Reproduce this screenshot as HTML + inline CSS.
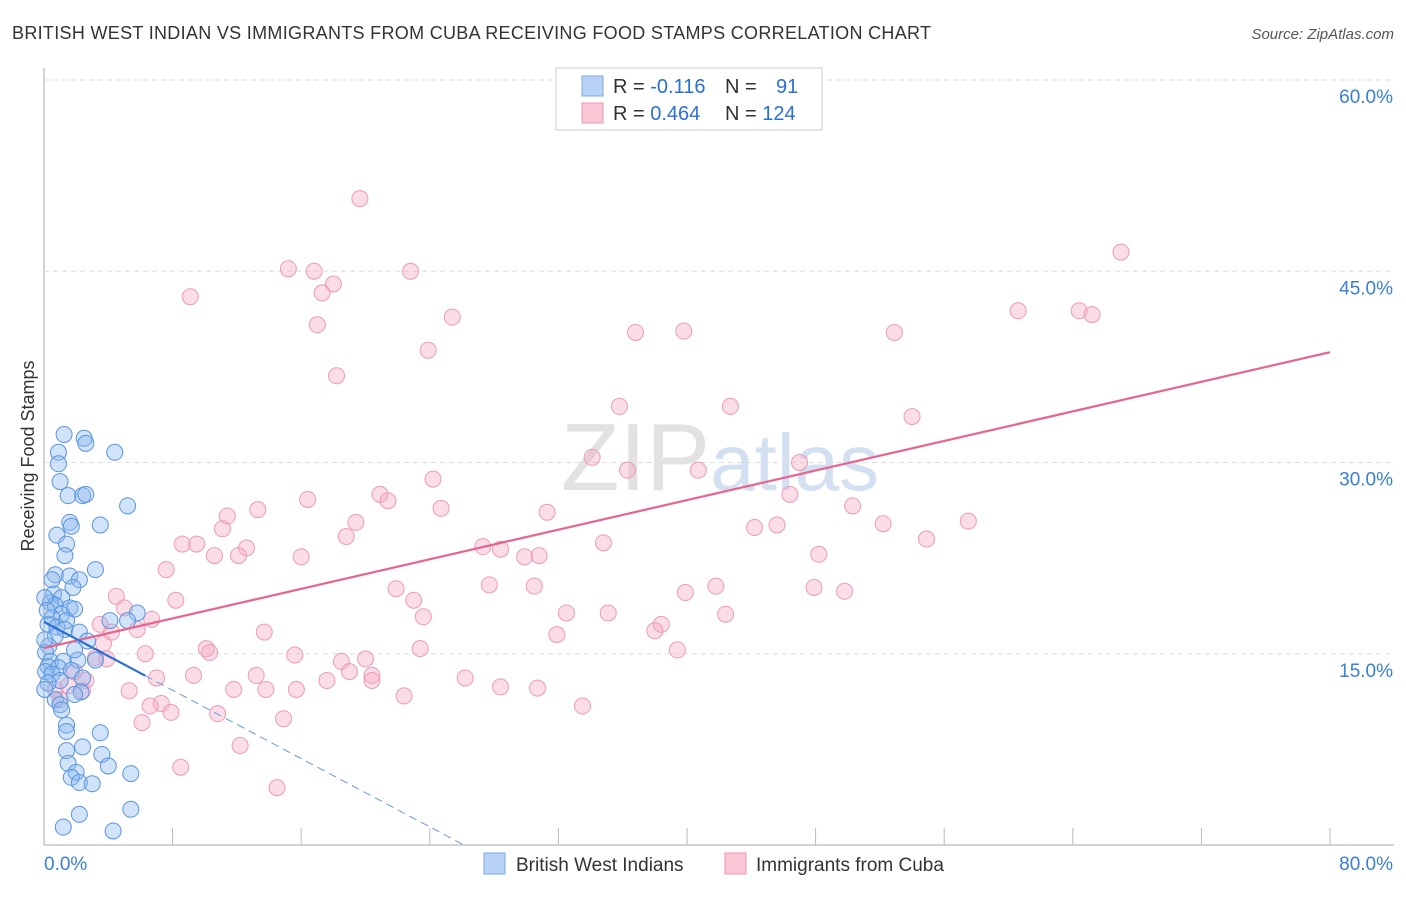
<!DOCTYPE html>
<html><head><meta charset="utf-8"><style>
body{margin:0;background:#fff;font-family:"Liberation Sans",sans-serif;}
svg text{font-family:"Liberation Sans",sans-serif;}
</style></head><body>
<svg width="1406" height="892" viewBox="0 0 1406 892">
<text x="12" y="39" font-size="18" fill="#333" textLength="919" lengthAdjust="spacing">BRITISH WEST INDIAN VS IMMIGRANTS FROM CUBA RECEIVING FOOD STAMPS CORRELATION CHART</text>
<text x="1394" y="39" font-size="15" fill="#555" font-style="italic" text-anchor="end">Source: ZipAtlas.com</text>
<g id="grid"></g>
<text x="720" y="490" font-size="96" fill="#e2e2e2" text-anchor="middle" font-family="Liberation Serif">ZIP<tspan fill="#d3e0f2" font-family="Liberation Sans" font-size="80">atlas</tspan></text>
<g id="pts"></g>
<g id="lines"></g>
<text transform="translate(34,456) rotate(-90)" font-size="18" fill="#333" text-anchor="middle">Receiving Food Stamps</text>
<g>
<rect x="556" y="68" width="266" height="62" fill="#fff" stroke="#ccc"/>
<rect x="582" y="76" width="21" height="20" fill="#b8d3f5" stroke="#7aa9e6"/>
<rect x="582" y="103" width="21" height="20" fill="#f8c6d5" stroke="#ee9ab3"/>
<text x="613" y="93" font-size="20" fill="#333">R = <tspan fill="#2b6fd6">-0.116</tspan></text>
<text x="725" y="93" font-size="20" fill="#333">N = <tspan fill="#2b6fd6" x="776">91</tspan></text>
<text x="613" y="120" font-size="20" fill="#333">R = <tspan fill="#2b6fd6">0.464</tspan></text>
<text x="725" y="120" font-size="20" fill="#333">N = <tspan fill="#2b6fd6">124</tspan></text>
</g>
<g>
<rect x="484" y="853" width="21" height="21" fill="#b8d3f5" stroke="#7aa9e6"/>
<text x="516" y="871" font-size="19" fill="#333">British West Indians</text>
<rect x="725" y="853" width="21" height="21" fill="#f8c6d5" stroke="#ee9ab3"/>
<text x="756" y="871" font-size="19" fill="#333">Immigrants from Cuba</text>
</g>
</svg>
<script>
const yTicks=[15,30,45,60];
const yTickLabels=["15.0%","30.0%","45.0%","60.0%"];
const xTickLabels=["0.0%","80.0%"];
const blueX=[1.25,2.5,2.6,4.4,0.9,0.9,1.0,1.5,2.4,2.6,5.2,1.6,1.7,3.5,0.8,1.4,1.3,3.2,0.7,1.6,2.2,1.8,0.6,1.1,0.4,0.7,1.6,1.9,5.8,1.1,0.5,5.2,1.4,0.25,0.8,1.3,2.2,0.7,2.7,0.3,0.1,2.1,0.4,1.2,0.25,0.9,1.7,0.1,0.5,2.4,1.0,0.25,2.3,1.9,0.7,1.0,1.1,1.4,1.4,3.5,1.4,2.4,3.6,1.5,4.0,2.0,1.7,5.4,2.2,3.0,5.4,2.2,1.2,4.3,0.05,0.05,0.05,0.5,1.9,3.2,4.1,0.2];
const blueY=[32.2,31.9,31.5,30.8,30.8,29.9,28.5,27.4,27.4,27.5,26.6,25.3,25.0,25.1,24.3,23.6,22.7,21.6,21.2,21.1,20.8,20.2,19.7,19.4,19.0,18.8,18.6,18.5,18.2,18.1,17.8,17.6,17.6,17.3,17.1,16.9,16.7,16.4,16.0,15.6,15.1,14.5,14.4,14.4,14.0,13.9,13.7,13.6,13.4,13.1,12.9,12.7,12.0,11.8,11.4,11.0,10.6,9.4,8.9,8.8,7.4,7.7,7.1,6.4,6.2,5.7,5.3,5.6,4.9,4.8,2.8,2.4,1.4,1.1,19.4,16.1,12.2,20.8,15.3,14.5,17.6,18.4];
const pinkX=[19.65,67.0,15.2,16.8,22.8,18.0,17.3,9.1,17.0,25.4,60.6,64.4,65.2,36.8,39.8,52.9,23.9,18.2,35.8,42.7,54.0,34.1,47.0,36.3,40.7,24.2,20.9,21.4,16.4,46.4,50.3,24.7,13.3,31.3,11.4,19.4,57.5,45.6,44.2,52.2,11.1,18.8,54.9,8.6,9.5,34.8,27.3,28.4,12.6,12.1,10.6,16.0,29.9,30.8,48.2,7.6,27.7,30.5,21.9,41.8,47.9,49.8,39.9,4.5,8.2,23.0,5.0,32.5,35.1,42.4,23.6,6.7,3.5,38.4,5.8,4.2,38.0,31.9,13.7,3.7,10.1,10.3,23.4,39.4,6.3,15.6,3.2,3.9,18.5,20.0,19.0,1.9,7.0,9.3,13.2,20.4,26.2,17.6,20.4,2.6,11.8,13.8,15.7,28.4,30.7,5.3,2.4,22.4,1.0,7.3,6.6,7.9,33.5,10.8,14.9,6.1,12.2,8.5,14.5,0.7,1.5];
const pinkY=[50.7,46.5,45.2,45.0,45.0,44.0,43.3,43.0,40.8,41.4,41.9,41.9,41.6,40.2,40.3,40.2,38.8,36.8,34.4,34.4,33.6,30.4,30.0,29.4,29.4,28.7,27.5,27.0,27.1,27.5,26.6,26.4,26.3,26.1,25.8,25.3,25.4,25.1,24.9,25.2,24.8,24.2,24.0,23.6,23.6,23.7,23.4,23.2,23.3,22.7,22.7,22.6,22.6,22.7,22.8,21.6,20.4,20.3,20.1,20.3,20.2,19.9,19.8,19.5,19.2,19.2,18.6,18.2,18.2,18.1,17.9,17.7,17.3,17.3,16.9,16.7,16.8,16.5,16.7,15.8,15.4,15.1,15.4,15.3,15.0,14.9,14.7,14.6,14.4,14.6,13.6,13.6,13.1,13.3,13.3,13.3,13.1,12.9,12.9,12.9,12.2,12.2,12.2,12.4,12.3,12.1,12.1,11.7,11.4,11.1,10.9,10.4,10.9,10.3,9.9,9.6,7.8,6.1,4.5,12.2,12.5];
const blueTrend=[17.5,-0.67];
const pinkTrend=[15.45,0.29];
const X0=44,X1=1330,YB=845,PY=12.75;
function sx(v){return X0+(v/80)*(X1-X0);}
function sy(v){return YB-v*PY;}
const NS="http://www.w3.org/2000/svg";
function mk(t,a){const e=document.createElementNS(NS,t);for(const k in a)e.setAttribute(k,a[k]);return e;}
const grid=document.getElementById('grid');
let ax=mk('line',{x1:X0,y1:68,x2:X0,y2:YB,stroke:'#aaa'});


grid.appendChild(ax);
let bx=mk('line',{x1:X0,y1:YB,x2:1394,y2:YB,stroke:'#aaa'});


grid.appendChild(bx);
yTicks.forEach((t,i)=>{
 let g=mk('line',{x1:X0,y1:sy(t),x2:1394,y2:sy(t),stroke:'#ddd','stroke-dasharray':'5,4'});
 
 
 grid.appendChild(g);
 let tx=mk('text',{x:1393,y:sy(t)+23,'font-size':19,fill:'#3a7fd5','text-anchor':'end'});
 tx.textContent=yTickLabels[i];
 
 
 grid.appendChild(tx);
});
for(let i=1;i<=10;i++){
 let x=sx(i*8);
 let t=mk('line',{x1:x,y1:828,x2:x,y2:YB,stroke:'#bbb'});
 
 
 grid.appendChild(t);
}
[[0,X0,'start'],[1,1393,'end']].forEach(([i,x,a])=>{
 let tx=mk('text',{x:x,y:870,'font-size':19,fill:'#3a7fd5','text-anchor':a});
 tx.textContent=xTickLabels[i];
 
 
 grid.appendChild(tx);
});
const pts=document.getElementById('pts');
pinkX.forEach((v,i)=>{
 let c=mk('circle',{cx:sx(v),cy:sy(pinkY[i]),r:8,fill:'rgba(246,170,195,0.4)',stroke:'#ef9ab4','stroke-width':1});
 
 
 pts.appendChild(c);
});
blueX.forEach((v,i)=>{
 let c=mk('circle',{cx:sx(v),cy:sy(blueY[i]),r:8,fill:'rgba(140,185,240,0.4)',stroke:'#5a94e0','stroke-width':1});
 
 
 pts.appendChild(c);
});
const lines=document.getElementById('lines');
let pl=mk('line',{x1:sx(0),y1:sy(pinkTrend[0]),x2:sx(80),y2:sy(pinkTrend[0]+80*pinkTrend[1]),stroke:'#e8648f','stroke-width':2.2});


lines.appendChild(pl);
const xs=6.3, xe=-blueTrend[0]/blueTrend[1];
let bl=mk('line',{x1:sx(0),y1:sy(blueTrend[0]),x2:sx(xs),y2:sy(blueTrend[0]+xs*blueTrend[1]),stroke:'#2b6fd6','stroke-width':2.2});


lines.appendChild(bl);
let bd=mk('line',{x1:sx(xs),y1:sy(blueTrend[0]+xs*blueTrend[1]),x2:sx(xe),y2:sy(0),stroke:'#6a9be0','stroke-width':1,'stroke-dasharray':'8,5'});


lines.appendChild(bd);
</script>
</body></html>
